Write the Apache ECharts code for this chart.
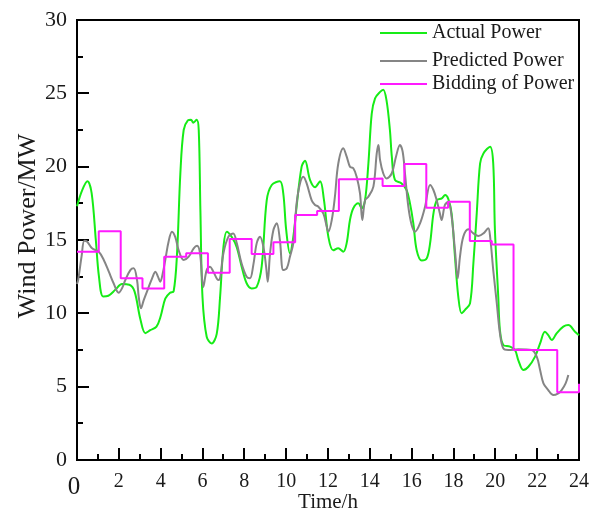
<!DOCTYPE html>
<html lang="en">
<head>
    <meta charset="UTF-8">
    <title>Wind Power</title>
    <script src="https://cdn.jsdelivr.net/npm/echarts@6/dist/echarts.min.js"></script>
    <style>
        html, body { margin: 0; padding: 0; background: #fff; }
        #main { width: 591px; height: 512px; }
    </style>
</head>
<body>
<div id="main"></div>
<script type="text/javascript">
    // actual power (green)
    var actualHours = [0, 0.25, 0.5, 0.7, 0.9, 1.05, 1.25, 1.5, 1.83, 2.15, 2.5, 2.75, 3.03, 3.27, 3.5, 3.8, 4.0, 4.22,
        4.45, 4.62, 4.78, 4.94, 5.1, 5.3, 5.45, 5.56, 5.72, 5.82, 5.9, 6.0, 6.2, 6.44, 6.68, 6.84, 7.0, 7.16, 7.4, 7.64,
        7.87, 8.11, 8.35, 8.59, 8.83, 9.07, 9.31, 9.7, 9.86, 10.0, 10.18, 10.34, 10.5, 10.74, 10.9, 11.14, 11.38, 11.62,
        11.8, 12.02, 12.25, 12.49, 12.73, 12.89, 13.05, 13.21, 13.45, 13.61, 13.77, 13.93, 14.09, 14.25, 14.49, 14.64,
        14.8, 14.96, 15.05, 15.2, 15.52, 15.76, 15.92, 16.08, 16.24, 16.48, 16.72, 16.88, 17.04, 17.2, 17.44, 17.6,
        17.75, 17.91, 18.07, 18.23, 18.39, 18.55, 18.79, 18.95, 19.11, 19.27, 19.43, 19.75, 19.9, 19.98, 20.14, 20.22,
        20.38, 20.7, 20.94, 21.1, 21.34, 21.58, 21.9, 22.14, 22.37, 22.53, 22.7, 22.93, 23.25, 23.49, 23.81, 24];
    var actualValues = [17.3, 18.4, 19.0, 18.2, 15.0, 12.5, 11.15, 11.2, 11.6, 12.0, 11.95, 11.5, 9.6, 8.65, 8.85, 9.1,
        9.8, 11.0, 11.4, 11.5, 14.0, 19.5, 22.5, 23.15, 23.2, 23.0, 23.2, 22.5, 17.0, 11.1, 8.4, 7.95, 8.6, 11.1, 14.5,
        15.57, 15.2, 14.5, 13.2, 12.05, 11.7, 11.8, 13.2, 17.7, 18.75, 19.0, 18.2, 15.7, 14.1, 15.2, 17.3, 20.0, 20.4,
        19.1, 18.6, 19.0, 17.8, 15.2, 14.3, 14.43, 14.2, 14.77, 16.36, 17.16, 17.5, 17.16, 17.7, 20.2, 23.6, 24.66,
        25.1, 25.25, 24.5, 22.5, 20.7, 19.1, 18.86, 18.4, 17.5, 16.14, 14.3, 13.6, 13.75, 14.77, 16.8, 17.7, 17.84,
        18.07, 17.8, 16.8, 13.86, 11.13, 10.0, 10.23, 10.68, 13.4, 16.8, 20.2, 20.9, 21.36, 20.2, 15.7, 11.13, 8.86,
        7.84, 7.73, 7.5, 6.8, 6.14, 6.36, 7.05, 7.95, 8.75, 8.52, 8.18, 8.64, 9.09, 9.2, 8.75, 8.5];

    // predicted power (gray)
    var predHours = [0, 0.06, 0.22, 0.35, 0.48, 0.72, 1.04, 1.28, 1.52, 1.75, 1.99, 2.15, 2.31, 2.55, 2.71, 2.87, 2.95,
        3.06, 3.19, 3.43, 3.59, 3.75, 3.87, 3.98, 4.1, 4.22, 4.38, 4.54, 4.7, 4.86, 5.1, 5.34, 5.58, 5.74, 5.88, 6.04,
        6.2, 6.36, 6.52, 6.76, 6.84, 7.0, 7.24, 7.47, 7.64, 7.87, 8.11, 8.27, 8.43, 8.59, 8.75, 8.91, 9.04, 9.12, 9.23,
        9.39, 9.55, 9.7, 9.86, 10.03, 10.18, 10.34, 10.5, 10.66, 10.82, 10.98, 11.22, 11.38, 11.54, 11.78, 11.94, 12.02,
        12.18, 12.33, 12.49, 12.73, 12.89, 13.05, 13.21, 13.37, 13.53, 13.64, 13.77, 13.93, 14.17, 14.33, 14.41, 14.49,
        14.64, 14.8, 15.05, 15.25, 15.44, 15.57, 15.68, 15.84, 16.0, 16.16, 16.4, 16.64, 16.88, 17.04, 17.2, 17.35,
        17.43, 17.59, 17.75, 17.91, 18.07, 18.2, 18.31, 18.47, 18.71, 18.95, 19.19, 19.43, 19.66, 19.75, 19.9, 20.07,
        20.22, 20.38, 20.62, 21.1, 21.74, 21.98, 22.14, 22.3, 22.53, 22.77, 23.01, 23.17, 23.36, 23.49];
    var predValues = [12.0, 12.3, 13.9, 14.95, 14.9, 14.43, 14.2, 13.64, 12.84, 12.05, 11.4, 11.7, 12.27, 12.95, 13.07,
        12.27, 11.13, 10.34, 10.9, 11.8, 12.39, 12.84, 12.5, 12.16, 12.73, 13.64, 14.9, 15.57, 15.2, 14.3, 13.64, 13.86,
        14.43, 14.6, 14.1, 11.8, 12.95, 13.18, 12.84, 12.27, 12.39, 14.1, 15.23, 15.45, 14.77, 13.4, 12.5, 12.39, 13.3,
        14.77, 15.23, 14.55, 13.18, 12.16, 14.1, 15.68, 16.14, 15.0, 12.95, 13.07, 13.86, 14.77, 17.5, 18.86, 19.32,
        18.86, 17.7, 17.39, 17.27, 16.8, 15.9, 15.57, 16.36, 17.95, 20.2, 21.25, 20.7, 20.0, 19.89, 19.32, 18.18, 16.36,
        17.7, 17.95, 18.64, 20.9, 21.48, 20.45, 19.55, 19.2, 19.55, 20.68, 21.48, 21.02, 19.55, 17.27, 16.02, 15.57,
        16.14, 17.27, 18.75, 18.41, 17.7, 16.8, 16.36, 17.39, 17.6, 16.6, 14.3, 12.39, 13.86, 15.23, 15.73, 15.45,
        15.27, 15.45, 15.8, 15.23, 12.95, 10.68, 8.64, 7.61, 7.5, 7.55, 7.5, 7.05, 6.14, 5.23, 4.77, 4.43, 4.55, 4.77,
        5.23, 5.8];

    // bidding of power (magenta steps), value held from each start hour
    var bidHours = [0, 1.04, 2.09, 3.13, 4.17, 5.22, 6.26, 7.3, 8.35, 9.39, 10.43, 11.48, 12.52, 13.57, 14.61, 15.65,
        16.7, 17.74, 18.78, 19.83, 20.87, 21.91, 22.96, 24];
    var bidValues = [14.2, 15.6, 12.4, 11.7, 13.85, 14.1, 12.77, 15.07, 14.05, 14.84, 16.7, 16.98, 19.14, 19.2, 18.68,
        20.18, 17.2, 17.6, 14.93, 14.7, 7.5, 7.5, 4.62, 5.2];

    // axis ticks (major ones carry the labels)
    var xMajorTicks = [0, 2, 4, 6, 8, 10, 12, 14, 16, 18, 20, 22, 24];
    var xMinorTicks = [1, 3, 5, 7, 9, 11, 13, 15, 17, 19, 21, 23];
    var yMajorTicks = [0, 5, 10, 15, 20, 25, 30];
    var yMinorTicks = [2.5, 7.5, 12.5, 17.5, 22.5, 27.5];

    function zip(xs, ys) {
        var out = [];
        for (var i = 0; i < xs.length; i++) {
            out.push([xs[i], ys[i]]);
        }
        return out;
    }

    var serif = 'Liberation Serif';
    var ink = '#1a1a1a';
    var myChart = echarts.init(document.getElementById('main'));

    function legendAt(name, top) {
        return {
            data: [name],
            left: 380,
            top: top,
            padding: 0,
            icon: 'rect',
            itemWidth: 47,
            itemHeight: 2,
            textStyle: {fontFamily: serif, fontSize: 20, color: ink}
        };
    }

    function seg(points) {
        return {
            type: 'polyline',
            shape: {points: points},
            style: {stroke: '#000', lineWidth: 2, fill: null}
        };
    }

    // frame + inward ticks, placed through the chart's own scales
    function renderFrame(params, api) {
        var lt = api.coord([0, 30]);
        var rb = api.coord([24, 0]);
        var x0 = Math.round(lt[0]), y0 = Math.round(lt[1]);
        var x1 = Math.round(rb[0]), y1 = Math.round(rb[1]);
        var kids = [seg([[x0, y0], [x1, y0], [x1, y1], [x0, y1], [x0, y0 - 1]])];
        xMajorTicks.forEach(function (h) {
            var x = Math.round(api.coord([h, 0])[0]);
            kids.push(seg([[x, y1], [x, y1 - 12]]));
        });
        xMinorTicks.forEach(function (h) {
            var x = Math.round(api.coord([h, 0])[0]);
            kids.push(seg([[x, y1], [x, y1 - 6]]));
        });
        yMajorTicks.forEach(function (v) {
            var y = Math.round(api.coord([0, v])[1]);
            kids.push(seg([[x0, y], [x0 + 12, y]]));
        });
        yMinorTicks.forEach(function (v) {
            var y = Math.round(api.coord([0, v])[1]);
            kids.push(seg([[x0, y], [x0 + 6, y]]));
        });
        return {type: 'group', children: kids};
    }

    var option = {
        animation: false,
        backgroundColor: '#fff',
        grid: {left: 77, right: 12, top: 20, bottom: 52, containLabel: false, outerBoundsMode: 'none'},
        legend: [
            legendAt('Actual Power', 23),
            legendAt('Predicted Power', 51),
            legendAt('Bidding of Power', 74)
        ],
        xAxis: {
            type: 'value',
            min: 0,
            max: 24,
            interval: 2,
            name: 'Time/h',
            nameLocation: 'middle',
            nameGap: 32,
            nameMoveOverlap: false,
            nameTextStyle: {fontFamily: serif, fontSize: 21, color: ink},
            axisLine: {show: false, onZero: false},
            axisTick: {show: false},
            minorTick: {show: false},
            splitLine: {show: false},
            axisLabel: {
                margin: 12,
                fontFamily: serif,
                fontSize: 20,
                color: ink,
                formatter: function (v) {
                    return v === 0 ? '{z|0}' : String(v);
                },
                rich: {z: {fontFamily: serif, fontSize: 25, color: ink, padding: [3, 6, 0, 0]}}
            }
        },
        yAxis: {
            type: 'value',
            min: 0,
            max: 30,
            interval: 5,
            name: 'Wind Power/MW',
            nameLocation: 'middle',
            nameGap: 36,
            nameMoveOverlap: false,
            nameTextStyle: {fontFamily: serif, fontSize: 26, color: ink, padding: [0, 0, 0, 28]},
            axisLine: {show: false, onZero: false},
            axisTick: {show: false},
            minorTick: {show: false},
            splitLine: {show: false},
            axisLabel: {margin: 10, fontFamily: serif, fontSize: 22, color: ink}
        },
        series: [
            {
                name: 'Actual Power',
                type: 'line',
                smooth: 0.35,
                symbol: 'none',
                lineStyle: {color: '#16ec16', width: 2},
                itemStyle: {color: '#16ec16'},
                data: zip(actualHours, actualValues)
            },
            {
                name: 'Predicted Power',
                type: 'line',
                smooth: 0.35,
                symbol: 'none',
                lineStyle: {color: '#858585', width: 2},
                itemStyle: {color: '#858585'},
                data: zip(predHours, predValues)
            },
            {
                name: 'Bidding of Power',
                type: 'line',
                step: 'end',
                symbol: 'none',
                lineStyle: {color: '#ff1aff', width: 2},
                itemStyle: {color: '#ff1aff'},
                data: zip(bidHours, bidValues)
            },
            {
                type: 'custom',
                silent: true,
                clip: false,
                renderItem: renderFrame,
                data: [[0, 0]]
            }
        ]
    };
    myChart.setOption(option);
</script>
</body>
</html>
